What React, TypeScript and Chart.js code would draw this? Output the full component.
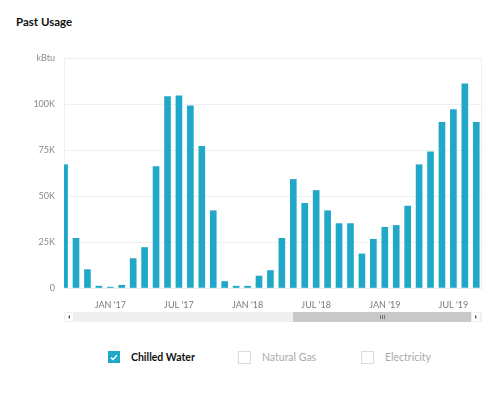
import React, { useEffect, useRef } from "react";
import { Chart, registerables } from "chart.js";

Chart.register(...registerables);

// Months from SEP '16 to SEP '19
const months = [
  "SEP '16", "OCT '16", "NOV '16", "DEC '16",
  "JAN '17", "FEB '17", "MAR '17", "APR '17", "MAY '17", "JUN '17", "JUL '17", "AUG '17", "SEP '17", "OCT '17", "NOV '17", "DEC '17",
  "JAN '18", "FEB '18", "MAR '18", "APR '18", "MAY '18", "JUN '18", "JUL '18", "AUG '18", "SEP '18", "OCT '18", "NOV '18", "DEC '18",
  "JAN '19", "FEB '19", "MAR '19", "APR '19", "MAY '19", "JUN '19", "JUL '19", "AUG '19", "SEP '19",
];

// Chilled water usage, kBtu
const chilledWater = [
  67000, 27000, 10000, 1000,
  500, 1500, 16000, 22000, 66000, 104000, 104500, 99000, 77000, 42000, 3500, 1000,
  1000, 6500, 9500, 27000, 59000, 46000, 53000, 42000, 35000, 35000, 18500, 26500,
  33000, 34000, 44500, 67000, 74000, 90000, 97000, 111000, 90000,
];

const xTickLabels = ["JAN '17", "JUL '17", "JAN '18", "JUL '18", "JAN '19", "JUL '19"];
const yTickValues = [0, 25000, 50000, 75000, 100000, 125000];
const yUnit = "kBtu";

const legendItems = ["Chilled Water", "Natural Gas", "Electricity"];
const legendChecked = [true, false, false];

const TEAL = "#21a8c8";
const FONT = "Lato, 'Open Sans', sans-serif";

const frame = {
  id: "frame",
  beforeDatasetsDraw(chart: any) {
    const { ctx, chartArea: a } = chart;
    ctx.save();
    ctx.strokeStyle = "#eeeeee";
    ctx.lineWidth = 1;
    ctx.strokeRect(Math.round(a.left) + 0.5, Math.round(a.top) + 0.5, Math.round(a.right - a.left) - 1, Math.round(a.bottom - a.top));
    ctx.restore();
  },
};

function ChartView() {
  const ref = useRef<HTMLCanvasElement | null>(null);
  useEffect(() => {
    if (!ref.current) return;
    const data = chilledWater.map((v, i) => ({ x: i, y: v }));
    const chart = new Chart(ref.current, {
      type: "bar",
      data: {
        datasets: [
          {
            label: legendItems[0],
            data: data as any,
            backgroundColor: TEAL,
            barThickness: 6,
            clip: 0 as any,
          },
        ],
      },
      options: {
        animation: false,
        responsive: false,
        maintainAspectRatio: false,
        layout: { padding: { left: 0, right: 18, top: 58, bottom: 0 } },
        plugins: { legend: { display: false }, tooltip: { enabled: false } },
        scales: {
          x: {
            type: "linear",
            offset: false,
            min: -0.05,
            max: 36.5,
            afterBuildTicks(scale: any) {
              scale.ticks = xTickLabels.map((l) => ({ value: months.indexOf(l) }));
            },
            afterFit(scale: any) {
              scale.height = 22;
            },
            grid: { display: false, offset: false },
            border: { display: false },
            ticks: {
              autoSkip: false,
              maxRotation: 0,
              padding: 4,
              color: "#7a7a7a",
              font: { family: FONT, size: 9 },
              callback: (v: any) => months[v as number],
            },
          },
          y: {
            min: 0,
            max: 125000,
            afterBuildTicks(scale: any) {
              scale.ticks = yTickValues.map((v) => ({ value: v }));
            },
            afterFit(scale: any) {
              scale.width = 64;
            },
            grid: { color: "#f0f0f0", drawTicks: false },
            border: { display: false },
            ticks: {
              padding: 9,
              color: "#8a8a8a",
              font: { family: FONT, size: 9 },
              callback: (v: any) => (v === 125000 ? yUnit : v === 0 ? "0" : v / 1000 + "K"),
            },
          },
        },
      },
      plugins: [frame],
    });
    return () => chart.destroy();
  }, []);
  return <canvas ref={ref} width={500} height={310} style={{ position: "absolute", left: 0, top: 0, width: 500, height: 310 }} />;
}

function Check({ checked }: { checked: boolean }) {
  if (checked) {
    return (
      <div style={{ width: 12, height: 12, background: TEAL, display: "flex", alignItems: "center", justifyContent: "center" }}>
        <svg width="8" height="7" viewBox="0 0 8 7">
          <path d="M1 3.6 L3 5.5 L7 1.3" stroke="#fff" strokeWidth="1.5" fill="none" />
        </svg>
      </div>
    );
  }
  return <div style={{ width: 11, height: 11, border: "1px solid #dcdcdc", background: "#fff" }} />;
}

export default function App() {
  const legendX = [108, 238, 361];
  return (
    <div style={{ position: "fixed", left: 0, top: 0, width: 500, height: 397, background: "#fff", fontFamily: FONT, overflow: "hidden" }}>
      <div style={{ position: "absolute", left: 16, top: 15, fontSize: 11.5, fontWeight: 700, color: "#111" }}>Past Usage</div>
      <ChartView />
      {/* scrollbar */}
      <div style={{ position: "absolute", left: 64, top: 312, width: 418, height: 10, background: "#efefef" }} />
      <div style={{ position: "absolute", left: 293, top: 312, width: 178, height: 10, background: "#c9c9c9", display: "flex", alignItems: "center", justifyContent: "center" }}>
        <div style={{ display: "flex", gap: 1 }}>
          <div style={{ width: 1, height: 4, background: "#777" }} />
          <div style={{ width: 1, height: 4, background: "#777" }} />
          <div style={{ width: 1, height: 4, background: "#777" }} />
        </div>
      </div>
      <div style={{ position: "absolute", left: 65, top: 313, width: 8, height: 8, background: "#fff", display: "flex", alignItems: "center", justifyContent: "center" }}>
        <div style={{ width: 0, height: 0, borderTop: "2px solid transparent", borderBottom: "2px solid transparent", borderRight: "2px solid #555" }} />
      </div>
      <div style={{ position: "absolute", left: 472, top: 313, width: 8, height: 8, background: "#fff", display: "flex", alignItems: "center", justifyContent: "center" }}>
        <div style={{ width: 0, height: 0, borderTop: "2px solid transparent", borderBottom: "2px solid transparent", borderLeft: "2px solid #555" }} />
      </div>
      {/* legend */}
      {legendItems.map((name, i) => (
        <div key={name} style={{ position: "absolute", left: legendX[i], top: 351, display: "flex", alignItems: "center", height: 12 }}>
          <Check checked={legendChecked[i]} />
          <span style={{ marginLeft: 11, fontSize: 10.5, fontWeight: legendChecked[i] ? 700 : 400, color: legendChecked[i] ? "#111" : "#aaa", whiteSpace: "nowrap" }}>{name}</span>
        </div>
      ))}
    </div>
  );
}
